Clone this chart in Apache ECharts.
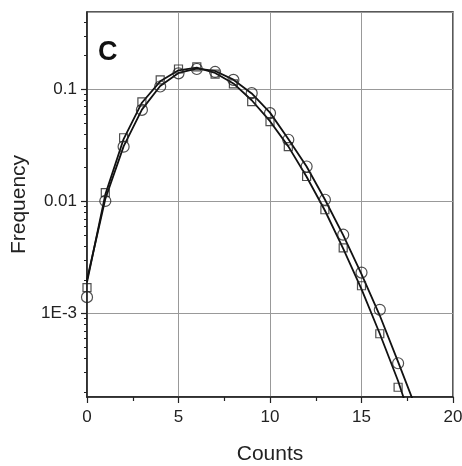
<!DOCTYPE html>
<html>
<head>
<meta charset="utf-8">
<script src="https://cdn.jsdelivr.net/npm/echarts@6/dist/echarts.min.js"></script>
<style>
html,body{margin:0;padding:0;background:#fff;}
#c{width:462px;height:466px;}
</style>
</head>
<body>
<div id="c"></div>
<script>
// Data
const counts = [0,1,2,3,4,5,6,7,8,9,10,11,12,13,14,15,16,17];
const circles = [0.0014,0.0101,0.0308,0.0656,0.106,0.139,0.152,0.143,0.1215,0.0925,0.0614,0.0355,0.0205,0.01035,0.00505,0.00232,0.00108,0.00036];
const squares = [0.0017,0.012,0.037,0.0774,0.1215,0.152,0.159,0.137,0.112,0.0778,0.0516,0.0309,0.0167,0.00843,0.00385,0.00177,0.00066,0.00022];
const fitX = [0,1,2,3,4,5,6,7,8,9,10,11,12,13,14,15,16,17,18];
const fitCircles = [0.0020,0.0105,0.031,0.066,0.107,0.14,0.153,0.146,0.122,0.092,0.062,0.036,0.0205,0.0104,0.0050,0.00225,0.00096,0.00037,0.00014];
const fitSquares = [0.0019,0.0115,0.036,0.076,0.118,0.148,0.156,0.140,0.113,0.080,0.052,0.031,0.0166,0.0083,0.0038,0.00165,0.00066,0.00025,0.00008];
const yMajorLabels = {"-3":"1E-3","-2":"0.01","-1":"0.1"};
const yMinorTicks = [2e-4,3e-4,4e-4,5e-4,6e-4,7e-4,8e-4,9e-4,2e-3,3e-3,4e-3,5e-3,6e-3,7e-3,8e-3,9e-3,0.02,0.03,0.04,0.05,0.06,0.07,0.08,0.09,0.2,0.3,0.4];
const xTitle = "Counts";
const yTitle = "Frequency";
const panel = "C";

const pairs = (xs, ys) => xs.map((x, i) => [x, ys[i]]).filter(p => p[1] != null);
const font = "'Liberation Sans', Arial, sans-serif";
const txt = '#222';

const chart = echarts.init(document.getElementById('c'), null, {renderer:'canvas'});
chart.setOption({
  animation:false,
  backgroundColor:'#fff',
  title:{text:panel,left:93,top:34,textStyle:{fontFamily:font,fontWeight:'bold',fontSize:27,color:'#111'}},
  grid:{left:87,right:9,top:12,bottom:69,show:true,borderColor:'#222',borderWidth:1.5,backgroundColor:'transparent',
    containLabel:false,outerBoundsMode:'none'},
  xAxis:{
    type:'value',min:0,max:20,interval:5,
    name:xTitle,nameLocation:'middle',nameGap:47,
    nameTextStyle:{fontFamily:font,fontSize:21,color:txt},
    axisLine:{show:true,lineStyle:{color:'#222',width:1.5}},
    axisTick:{show:true,length:6,inside:false,lineStyle:{color:'#222',width:1.2}},
    minorTick:{show:true,splitNumber:2,length:4,lineStyle:{color:'#222',width:1.2}},
    axisLabel:{fontFamily:font,fontSize:17,color:txt,margin:12},
    splitLine:{show:true,lineStyle:{color:'#999',width:1}}
  },
  yAxis:[{
    type:'log',logBase:10,min:1.8e-4,max:0.49,
    name:yTitle,nameLocation:'middle',nameGap:55,nameRotate:90,
    nameTextStyle:{fontFamily:font,fontSize:21,color:txt},
    axisLine:{show:true,lineStyle:{color:'#222',width:1.5}},
    axisTick:{show:true,length:6,lineStyle:{color:'#222',width:1.2}},
    axisLabel:{fontFamily:font,fontSize:17,color:txt,margin:10,showMinLabel:false,showMaxLabel:false,
      formatter:function(v){const l=Math.round(Math.log10(v));return Math.abs(Math.log10(v)-l)<1e-6?(yMajorLabels[String(l)]||''):'';}},
    splitLine:{show:true,lineStyle:{color:'#999',width:1}}
  },{
    type:'log',logBase:10,min:1.8e-4,max:0.49,position:'left',
    axisLine:{show:false},
    axisTick:{show:true,length:3,customValues:yMinorTicks,lineStyle:{color:'#222',width:1}},
    axisLabel:{show:false},
    splitLine:{show:false}
  }],
  series:[
    {type:'line',data:pairs(fitX,fitCircles),showSymbol:false,symbol:'none',smooth:false,clip:true,
      lineStyle:{color:'#111',width:1.8},z:2},
    {type:'line',data:pairs(fitX,fitSquares),showSymbol:false,symbol:'none',smooth:false,clip:true,
      lineStyle:{color:'#111',width:1.8},z:2},
    {type:'scatter',data:pairs(counts,circles),symbol:'circle',symbolSize:11,
      itemStyle:{color:'rgba(0,0,0,0)',borderColor:'#222',borderWidth:1.2},z:3},
    {type:'scatter',data:pairs(counts,squares),symbol:'rect',symbolSize:8,
      itemStyle:{color:'rgba(0,0,0,0)',borderColor:'#222',borderWidth:1.2},z:3}
  ]
});
</script>
</body>
</html>
